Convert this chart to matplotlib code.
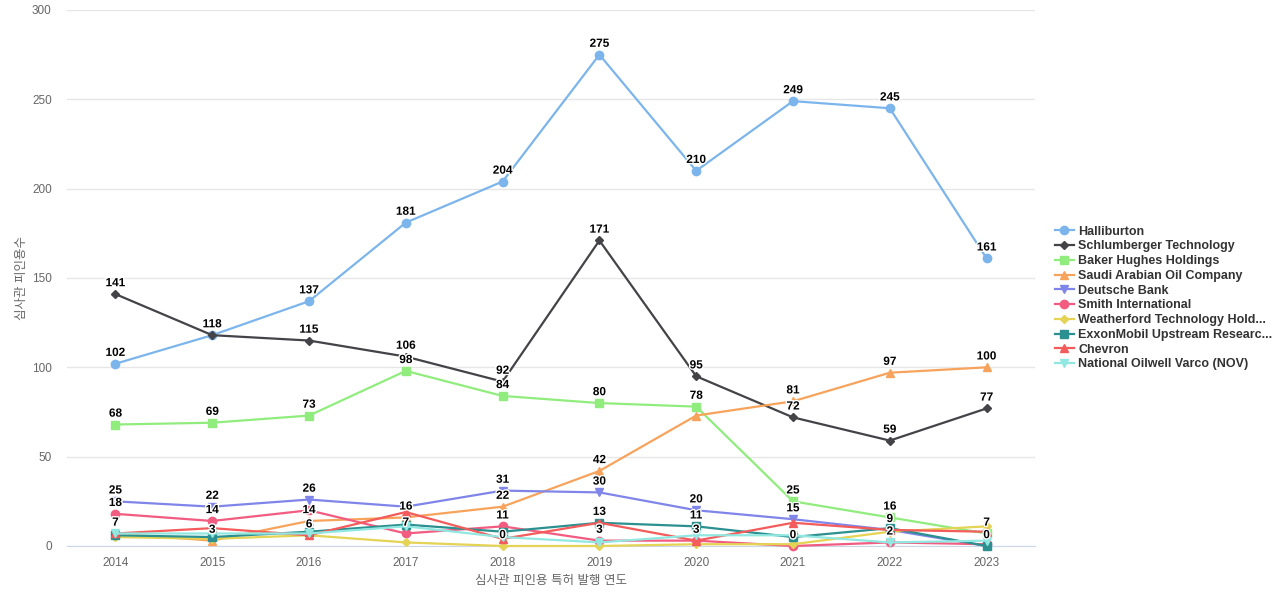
import matplotlib
matplotlib.use("Agg")
import matplotlib.pyplot as plt
import matplotlib.patheffects as pe

years = [2014, 2015, 2016, 2017, 2018, 2019, 2020, 2021, 2022, 2023]
series_names = [
    "Halliburton",
    "Schlumberger Technology",
    "Baker Hughes Holdings",
    "Saudi Arabian Oil Company",
    "Deutsche Bank",
    "Smith International",
    "Weatherford Technology Hold...",
    "ExxonMobil Upstream Researc...",
    "Chevron",
    "National Oilwell Varco (NOV)",
]
halliburton = [102, 118, 137, 181, 204, 275, 210, 249, 245, 161]
schlumberger = [141, 118, 115, 106, 92, 171, 95, 72, 59, 77]
baker = [68, 69, 73, 98, 84, 80, 78, 25, 16, 7]
saudi = [7, 3, 14, 16, 22, 42, 73, 81, 97, 100]
deutsche = [25, 22, 26, 22, 31, 30, 20, 15, 9, 0]
smith = [18, 14, 20, 7, 11, 3, 3, 0, 2, 1]
weatherford = [5, 4, 6, 2, 0, 0, 1, 1, 8, 11]
exxon = [6, 5, 8, 12, 8, 13, 11, 5, 10, 0]
chevron = [7, 10, 6, 19, 4, 13, 3, 13, 9, 8]
nov = [7, 7, 7, 11, 5, 2, 6, 6, 2, 3]
series_values = [halliburton, schlumberger, baker, saudi, deutsche, smith,
                 weatherford, exxon, chevron, nov]

colors = ["#7cb5ec", "#434348", "#90ed7d", "#f7a35c", "#8085e9",
          "#f15c80", "#e4d354", "#2b908f", "#f45b5b", "#91e8e1"]
markers = ["o", "D", "s", "^", "v", "o", "D", "s", "^", "v"]
msizes = [6, 4.5, 5.5, 6, 6, 6, 4.5, 5.5, 6, 6]

plt.rcParams['font.family'] = ['Liberation Sans', 'Noto Sans CJK KR', 'DejaVu Sans']

fig = plt.figure(figsize=(12.8, 6), dpi=100)
ax = fig.add_axes([67/1280, 54/600, (1035-67)/1280, 536/600])

xs = list(range(len(years)))
handles = []
for vals, name, c, m, ms in zip(series_values, series_names, colors, markers, msizes):
    h, = ax.plot(xs, vals, color=c, marker=m, markersize=ms, linewidth=1.6,
                 label=name, zorder=3, clip_on=False)
    handles.append(h)

ax.set_xlim(-0.5, len(years) - 0.5)
ax.set_ylim(0, 300)
ax.set_yticks([0, 50, 100, 150, 200, 250, 300])
ax.set_xticks(xs)
ax.set_xticklabels([str(y) for y in years])
ax.grid(axis='y', color='#e6e6e6', linewidth=1)
ax.set_axisbelow(True)
for s in ['top', 'right', 'left']:
    ax.spines[s].set_visible(False)
ax.spines['bottom'].set_color('#ccd6eb')
ax.tick_params(axis='both', length=0, colors='#666666', labelsize=8.5)
ax.tick_params(axis='x', pad=8)
ax.tick_params(axis='y', pad=11)

ax.set_xlabel("심사관 피인용 특허 발행 연도", color='#666666', fontsize=9, labelpad=4)
ax.set_ylabel("심사관 피인용수", color='#666666', fontsize=9)
ax.yaxis.set_label_coords((28 - 67) / 968, 0.5)

# data labels
texts = []
for vals in series_values:
    for x, v in zip(xs, vals):
        t = ax.annotate(str(v), (x, v), xytext=(0, 3.5), textcoords='offset points',
                        ha='center', va='bottom', fontsize=8.5, fontweight='bold',
                        color='black', zorder=5,
                        path_effects=[pe.withStroke(linewidth=2, foreground='white')])
        texts.append(t)

fig.canvas.draw()
renderer = fig.canvas.get_renderer()
kept = []
LABEL_H = 12.5
for t in texts:
    bb = t.get_window_extent(renderer)
    cx, cy, w = (bb.x0 + bb.x1) / 2, (bb.y0 + bb.y1) / 2, bb.width
    overlap = any(abs(cx - kx) < (w + kw) / 2 and abs(cy - ky) < LABEL_H
                  for kx, ky, kw in kept)
    if overlap:
        t.set_visible(False)
    else:
        kept.append((cx, cy, w))

leg = ax.legend(handles=handles, loc='center left',
                bbox_to_anchor=((1050 - 67) / 968, (546 - 298) / 536),
                frameon=False, fontsize=9, handlelength=1.5, handletextpad=0.35,
                labelspacing=0.22, borderaxespad=0)
for txt in leg.get_texts():
    txt.set_color('#333333')
    txt.set_fontweight('bold')

fig.savefig("out.png", dpi=100)
